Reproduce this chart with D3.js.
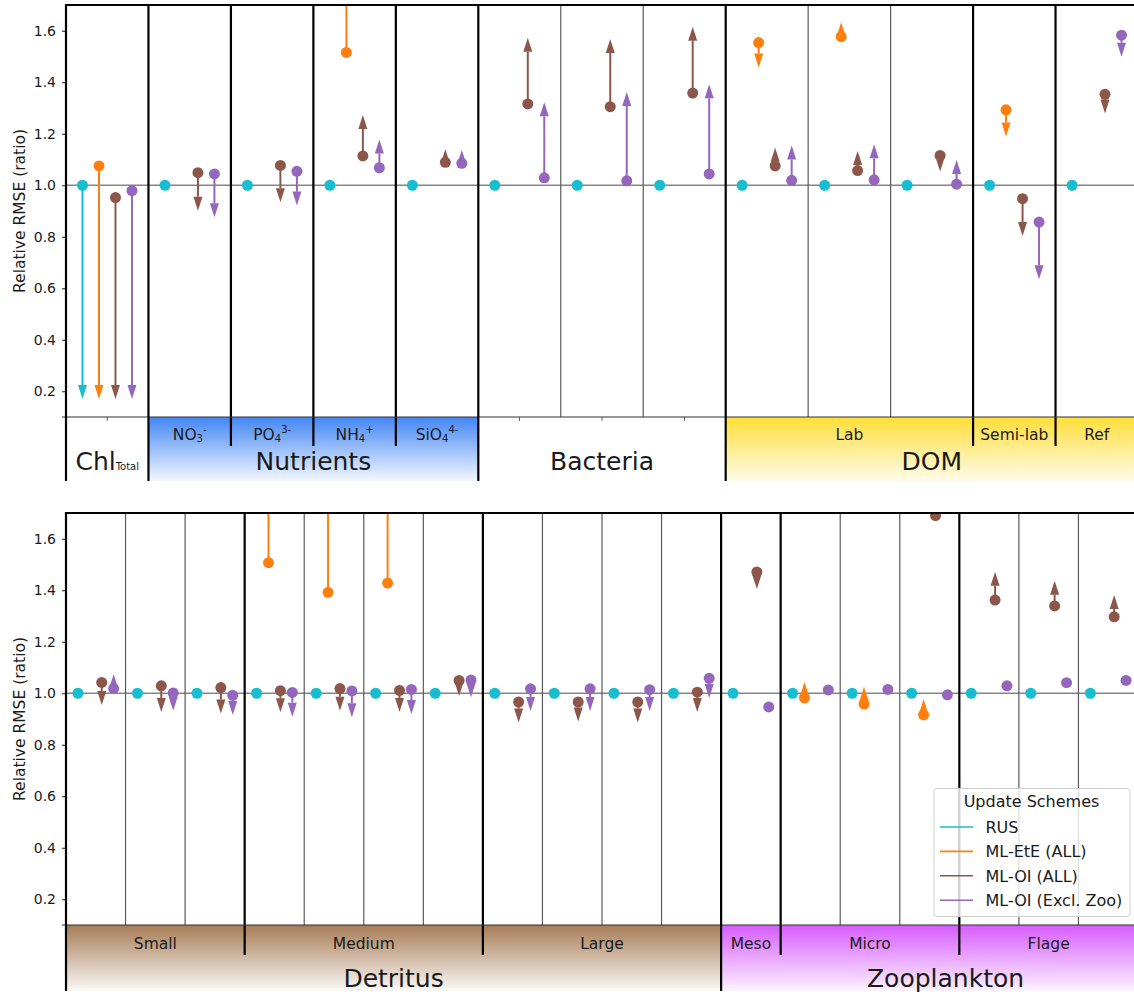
<!DOCTYPE html>
<html><head><meta charset="utf-8">
<script src="https://cdn.jsdelivr.net/npm/d3@7"></script>
<style>
body{margin:0;background:#fff}
svg{display:block}
text{font-family:"DejaVu Sans",sans-serif;fill:#1a1a1a}
</style>
</head><body>
<script>
// ---------------- DATA ----------------
const seriesNames = ["RUS", "ML-EtE (ALL)", "ML-OI (ALL)", "ML-OI (Excl. Zoo)"];
const yTicks = [0.2, 0.4, 0.6, 0.8, 1.0, 1.2, 1.4, 1.6];

// top panel
const topColumns   = ["Chl","NO3","PO4","NH4","SiO4","Bac-1","Bac-2","Bac-3","Lab-1","Lab-2","Lab-3","Semi-lab","Ref"];
const topRUS       = [1.00,1.00,1.00,1.00,1.00,1.00,1.00,1.00,1.00,1.00,1.00,1.00,1.00];
const topRUSEnd    = [0.17,null,null,null,null,null,null,null,null,null,null,null,null];
const topEtE       = [1.075,null,null,1.516,null,null,null,null,1.554,1.577,null,1.293,null];
const topEtEEnd    = [0.17,null,null,1.90,null,null,null,null,1.457,1.633,null,1.189,null];
const topOIAll     = [0.952,1.049,1.077,1.114,1.089,1.316,1.305,1.358,1.075,1.057,1.116,0.948,1.353];
const topOIAllEnd  = [0.17,0.901,0.934,1.273,1.140,1.573,1.568,1.616,1.146,1.133,1.053,0.803,1.279];
const topOIExcl    = [0.979,1.044,1.054,1.068,1.085,1.029,1.017,1.044,1.019,1.021,1.004,0.857,1.583];
const topOIExclEnd = [0.17,0.876,0.921,1.178,1.137,1.322,1.362,1.392,1.154,1.159,1.098,0.635,1.499];
const topMajorLabels = ["Chl", "Nutrients", "Bacteria", "DOM"];
const topMajorSpans  = [[0,1],[1,4],[5,3],[8,5]];
const topSubLabels   = ["", "NO", "PO", "NH", "SiO", "", "Lab", "Semi-lab", "Ref"];
const topSubScripts  = [null, ["3","-"], ["4","3-"], ["4","+"], ["4","4-"], null, null, null, null];
const topSubSpans    = [[0,1],[1,1],[2,1],[3,1],[4,1],[5,3],[8,3],[11,1],[12,1]];

// bottom panel
const botColumns   = ["Small-1","Small-2","Small-3","Medium-1","Medium-2","Medium-3","Medium-4","Large-1","Large-2","Large-3","Large-4","Meso","Micro-1","Micro-2","Micro-3","Flage-1","Flage-2","Flage-3"];
const botRUS       = [1,1,1,1,1,1,1,1,1,1,1,1,1,1,1,1,1,1];
const botRUSEnd    = [null,null,null,null,null,null,null,null,null,null,null,null,null,null,null,null,null,null];
const botEtE       = [null,null,null,1.507,1.392,1.428,null,null,null,null,null,null,0.982,0.958,0.916,null,null,null];
const botEtEEnd    = [null,null,null,1.90,1.76,1.90,null,null,null,null,null,null,1.044,1.025,0.977,null,null,null];
const botOIAll     = [1.042,1.029,1.022,1.010,1.018,1.011,1.050,0.966,0.966,0.966,1.004,1.471,null,null,1.69,1.362,1.339,1.297];
const botOIAllEnd  = [0.954,0.927,0.921,0.926,0.932,0.927,0.989,0.886,0.890,0.886,0.927,1.405,null,null,null,1.472,1.437,1.382];
const botOIExcl    = [1.018,1.001,0.992,1.003,1.009,1.015,1.051,1.017,1.017,1.014,1.058,0.947,1.013,1.015,0.994,1.029,1.041,1.050];
const botOIExclEnd = [1.074,0.932,0.916,0.909,0.907,0.919,0.984,0.931,0.931,0.931,0.982,null,null,null,null,null,null,null];
const botMajorLabels = ["Detritus", "Zooplankton"];
const botMajorSpans  = [[0,11],[11,7]];
const botSubLabels   = ["Small", "Medium", "Large", "Meso", "Micro", "Flage"];
const botSubScripts  = [null, null, null, null, null, null];
const botSubSpans    = [[0,3],[3,4],[7,4],[11,1],[12,3],[15,3]];

// ---------------- STYLE ----------------
const colors = ["#17becf", "#ff7f0e", "#8c564b", "#9467bd"];
const bandColors = {
  "Nutrients":   ["#4286f4", "#f3f7ff"],
  "DOM":         ["#ffde38", "#fffbea"],
  "Detritus":    ["#a77c56", "#fbf9f7"],
  "Zooplankton": ["#d65cfd", "#fcf3ff"]
};
const labelNudge = {"Zooplankton": 16};
const W = 1134, H = 994;
const xLeft = 66, xRight = 1138;
const headLen = 14, headHalf = 4.5, dotR = 5.5;

const svg = d3.select("body").append("svg").attr("width", W).attr("height", H);
const defs = svg.append("defs");
Object.entries(bandColors).forEach(([k, c]) => {
  const g = defs.append("linearGradient").attr("id", "g-" + k)
    .attr("x1", 0).attr("y1", 0).attr("x2", 0).attr("y2", 1);
  g.append("stop").attr("offset", "0%").attr("stop-color", c[0]);
  g.append("stop").attr("offset", "100%").attr("stop-color", c[1]);
});

const panels = [
  {id: "top", cols: topColumns,
   vals: [topRUS, topEtE, topOIAll, topOIExcl], ends: [topRUSEnd, topEtEEnd, topOIAllEnd, topOIExclEnd],
   majors: topMajorLabels, majorSpans: topMajorSpans, subs: topSubLabels, subScripts: topSubScripts, subSpans: topSubSpans,
   yTop: 5, yBot: 417, bandBot: 481, subSepBot: 446, subBase: 440, majorBase: 469.5, legend: false},
  {id: "bot", cols: botColumns,
   vals: [botRUS, botEtE, botOIAll, botOIExcl], ends: [botRUSEnd, botEtEEnd, botOIAllEnd, botOIExclEnd],
   majors: botMajorLabels, majorSpans: botMajorSpans, subs: botSubLabels, subScripts: botSubScripts, subSpans: botSubSpans,
   yTop: 513, yBot: 925, bandBot: 991, subSepBot: 955, subBase: 949, majorBase: 987, legend: true}
];

panels.forEach(p => {
  const g = svg.append("g");
  const x = d3.scaleBand().domain(p.cols).range([xLeft, xRight]).paddingInner(0).paddingOuter(0);
  const bw = x.bandwidth();
  const xs = d3.scalePoint().domain(seriesNames).range([bw * 0.2, bw * 0.8]);
  const y = d3.scaleLinear().domain([0.1, 1.7]).range([p.yBot, p.yTop]);
  const colX = i => xLeft + i * bw;

  defs.append("clipPath").attr("id", "clip-" + p.id).append("rect")
    .attr("x", xLeft).attr("y", p.yTop).attr("width", xRight - xLeft).attr("height", p.yBot - p.yTop);

  // x ticks
  const xa = g.append("g").attr("transform", `translate(0,${p.yBot})`)
    .call(d3.axisBottom(x).tickSize(4).tickFormat(""));
  xa.select(".domain").remove();
  xa.selectAll(".tick line").attr("stroke", "#666").attr("stroke-width", 1);

  // bands
  p.majors.forEach((m, i) => {
    if (!bandColors[m]) return;
    const [s, n] = p.majorSpans[i];
    g.append("rect").attr("x", colX(s)).attr("y", p.yBot)
      .attr("width", n * bw).attr("height", p.bandBot - p.yBot)
      .attr("fill", `url(#g-${m})`);
  });

  // y axis
  const ya = g.append("g").attr("transform", `translate(${xLeft},0)`)
    .call(d3.axisLeft(y).tickValues(yTicks).tickFormat(d3.format(".1f")).tickSize(4).tickPadding(6));
  ya.select(".domain").remove();
  ya.selectAll(".tick line").attr("stroke", "#222");
  ya.selectAll(".tick text").style("font-size", "14px").attr("fill", "#1a1a1a");
  g.append("text").attr("transform", `translate(19.5,${(p.yTop + p.yBot) / 2}) rotate(-90)`)
    .attr("text-anchor", "middle").attr("dominant-baseline", "central")
    .style("font-size", "15.5px").text("Relative RMSE (ratio)");

  // reference line at 1.0
  g.append("line").attr("x1", xLeft).attr("x2", xRight).attr("y1", y(1)).attr("y2", y(1))
    .attr("stroke", "#858585").attr("stroke-width", 1.3);

  // thin separators (within sub-groups)
  const majorStarts = new Set(p.majorSpans.map(d => d[0]));
  const subStarts = new Set(p.subSpans.map(d => d[0]));
  for (let i = 1; i < p.cols.length; i++) {
    if (majorStarts.has(i) || subStarts.has(i)) continue;
    g.append("line").attr("x1", colX(i)).attr("x2", colX(i)).attr("y1", p.yTop).attr("y2", p.yBot)
      .attr("stroke", "#5a5a5a").attr("stroke-width", 1.2);
  }

  // data: dot + arrow
  const dg = g.append("g").attr("clip-path", `url(#clip-${p.id})`);
  seriesNames.forEach((sn, si) => {
    const vals = p.vals[si], ends = p.ends[si], col = colors[si];
    p.cols.forEach((c, ci) => {
      const v = vals[ci];
      if (v == null) return;
      const cx = x(c) + xs(sn);
      const y0 = y(v);
      const e = ends[ci];
      if (e != null && e !== v) {
        const y1 = y(e);
        const s = Math.sign(y1 - y0);
        const base = y1 - s * headLen;
        if (s * (base - y0) > 0) {
          dg.append("line").attr("x1", cx).attr("x2", cx).attr("y1", y0).attr("y2", base)
            .attr("stroke", col).attr("stroke-width", 2);
        }
        dg.append("path")
          .attr("d", `M${cx},${y1}L${cx - headHalf},${base}L${cx + headHalf},${base}Z`)
          .attr("fill", col);
      }
      dg.append("circle").attr("cx", cx).attr("cy", y0).attr("r", dotR).attr("fill", col);
    });
  });

  // sub-group separators (thick, extend into label band)
  p.subSpans.forEach(([s]) => {
    if (majorStarts.has(s)) return;
    g.append("line").attr("x1", colX(s)).attr("x2", colX(s)).attr("y1", p.yTop).attr("y2", p.subSepBot)
      .attr("stroke", "#000").attr("stroke-width", 2.2);
  });
  // bottom spine
  g.append("line").attr("x1", xLeft - 4).attr("x2", xRight).attr("y1", p.yBot).attr("y2", p.yBot)
    .attr("stroke", "#333").attr("stroke-width", 1.2);
  // major separators
  const majorEdges = p.majorSpans.map(d => d[0]).concat([p.cols.length]);
  majorEdges.forEach(s => {
    g.append("line").attr("x1", colX(s)).attr("x2", colX(s)).attr("y1", p.yTop - 1).attr("y2", p.bandBot)
      .attr("stroke", "#000").attr("stroke-width", 2.2);
  });
  // top spine
  g.append("line").attr("x1", xLeft - 1).attr("x2", xRight).attr("y1", p.yTop).attr("y2", p.yTop)
    .attr("stroke", "#000").attr("stroke-width", 2.2);

  // sub labels
  p.subs.forEach((lab, i) => {
    if (!lab) return;
    const [s, n] = p.subSpans[i];
    const t = g.append("text").attr("x", colX(s) + n * bw / 2).attr("y", p.subBase)
      .attr("text-anchor", "middle").style("font-size", "15.5px").attr("fill", "#222");
    t.append("tspan").text(lab);
    const sc = p.subScripts[i];
    if (sc) {
      t.append("tspan").style("font-size", "10px").attr("dy", 2).text(sc[0]);
      t.append("tspan").style("font-size", "10px").attr("dy", -9).text(sc[1]);
    }
  });
  // major labels
  p.majors.forEach((lab, i) => {
    const [s, n] = p.majorSpans[i];
    const t = g.append("text").attr("x", colX(s) + n * bw / 2 + (labelNudge[lab] || 0)).attr("y", p.majorBase)
      .attr("text-anchor", "middle").style("font-size", "25px").attr("fill", "#111");
    t.append("tspan").text(lab);
    if (lab === "Chl") t.append("tspan").style("font-size", "10px").text("Total");
  });

  // legend
  if (p.legend) {
    const lg = g.append("g").attr("transform", "translate(934,788.5)");
    lg.append("rect").attr("width", 196).attr("height", 128).attr("rx", 3)
      .attr("fill", "#fff").attr("fill-opacity", 0.8).attr("stroke", "#d0d0d0");
    lg.append("text").attr("x", 97.5).attr("y", 18).attr("text-anchor", "middle")
      .style("font-size", "16px").text("Update Schemes");
    seriesNames.forEach((sn, i) => {
      const ry = 38.5 + i * 24.4;
      lg.append("line").attr("x1", 6).attr("x2", 39).attr("y1", ry).attr("y2", ry)
        .attr("stroke", colors[i]).attr("stroke-width", 1.6);
      lg.append("text").attr("x", 51.5).attr("y", ry + 6).style("font-size", "16px").text(sn);
    });
  }
});
</script>
</body></html>
